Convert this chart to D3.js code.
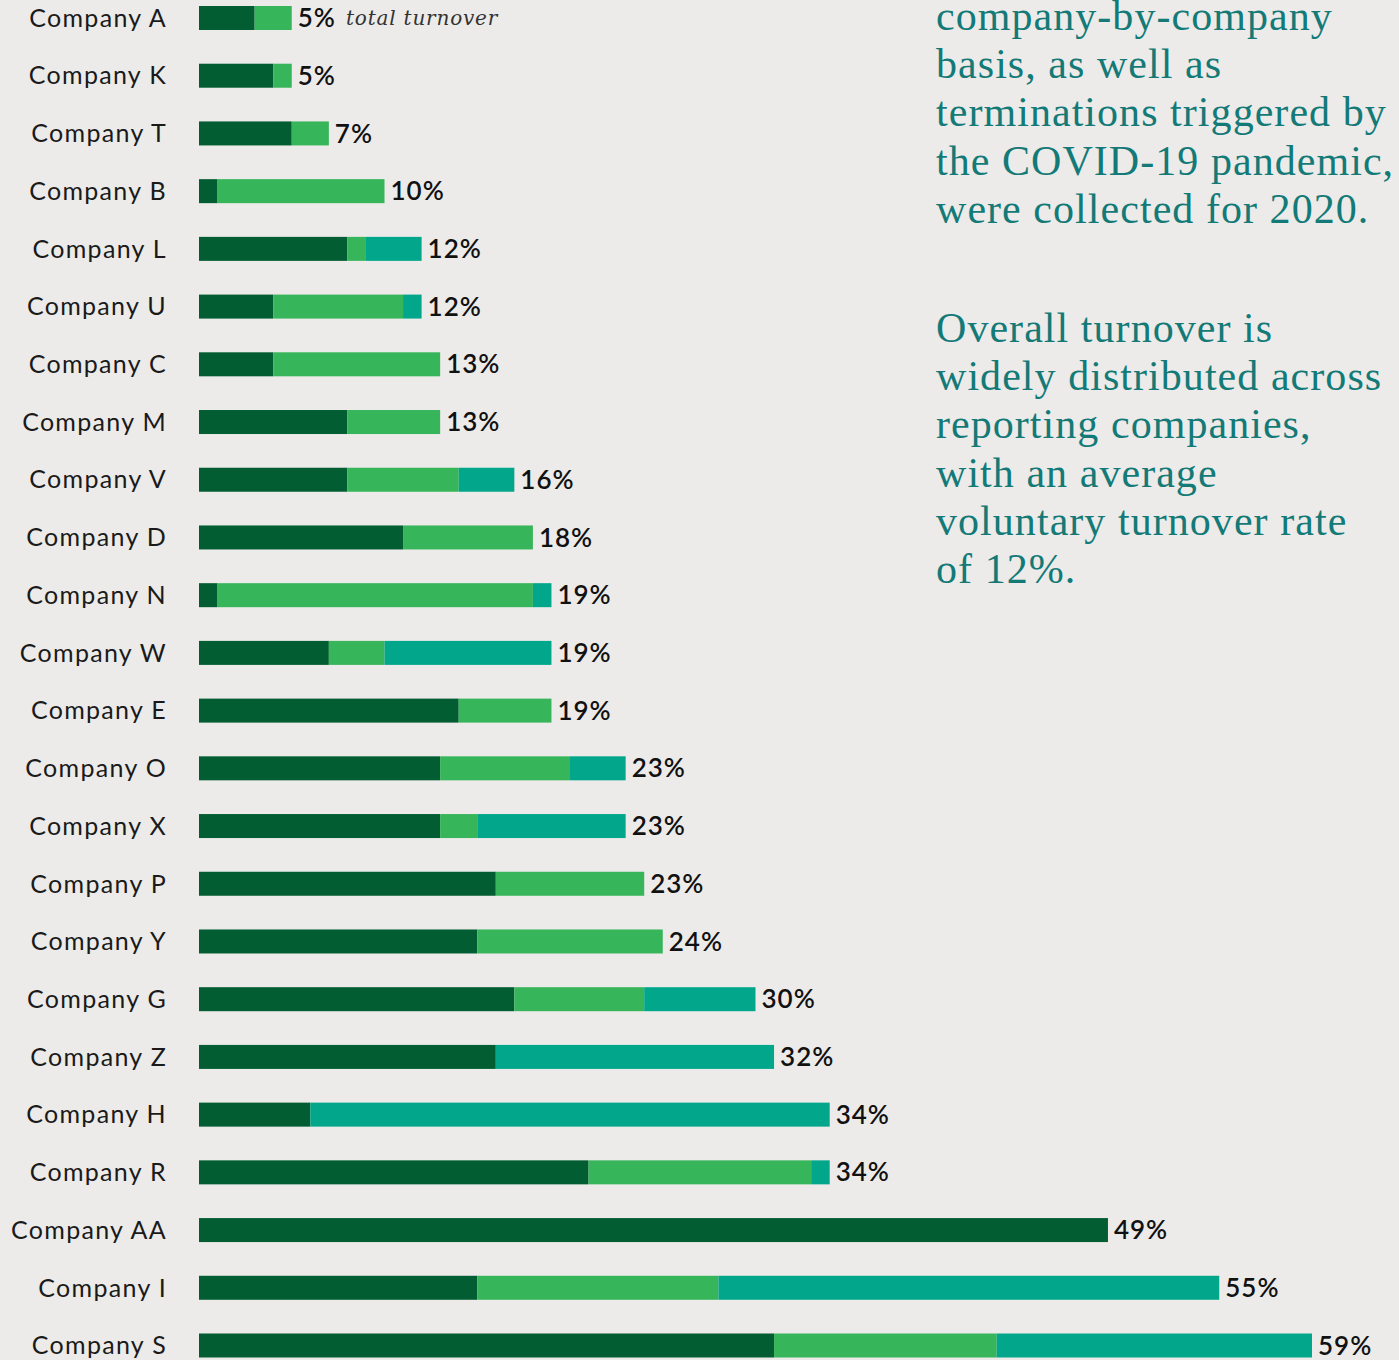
<!DOCTYPE html>
<html>
<head>
<meta charset="utf-8">
<script src="https://cdn.jsdelivr.net/npm/d3@7"></script>
<style>
  html, body { margin: 0; padding: 0; background: #ecebe9; overflow: hidden; }
  svg { display: block; }
</style>
</head>
<body>
<svg id="chart"></svg>
<script>
// values, in % of headcount
var companies = ["Company A","Company K","Company T","Company B","Company L","Company U","Company C","Company M",
                 "Company V","Company D","Company N","Company W","Company E","Company O","Company X","Company P",
                 "Company Y","Company G","Company Z","Company H","Company R","Company AA","Company I","Company S"];
var voluntary   = [3, 4, 5, 1, 8, 4, 4, 8, 8, 11, 1, 7, 14, 13, 13, 16, 15, 17, 16, 6, 21, 49, 15, 31];
var involuntary = [2, 1, 2, 9, 1, 7, 9, 5, 6, 7, 17, 3, 5, 7, 2, 8, 10, 7, 0, 0, 12, 0, 13, 12];
var covid       = [0, 0, 0, 0, 3, 1, 0, 0, 3, 0, 1, 9, 0, 3, 8, 0, 0, 6, 15, 28, 1, 0, 27, 17];
var totals      = ["5%","5%","7%","10%","12%","12%","13%","13%","16%","18%","19%","19%","19%","23%","23%","23%",
                   "24%","30%","32%","34%","34%","49%","55%","59%"];
var keys = ["voluntary", "involuntary", "covid"];
var colors = ["#025d32", "#37b55a", "#02a78b"];

var para1 = ["company-by-company", "basis, as well as", "terminations triggered by",
             "the COVID-19 pandemic,", "were collected for 2020."];
var para2 = ["Overall turnover is", "widely distributed across", "reporting companies,",
             "with an average", "voluntary turnover rate", "of 12%."];

var width = 1399, height = 1360;
var svg = d3.select("#chart").attr("width", width).attr("height", height);

var data = companies.map(function(c, i) {
    return {company: c, voluntary: voluntary[i], involuntary: involuntary[i], covid: covid[i], total: totals[i]};
});

var x = d3.scaleLinear().domain([0, 60]).range([199, 1312]);
var y = d3.scalePoint().domain(companies).range([18, 1345.5]);
var barH = 24;

var stack = d3.stack().keys(keys)(data);

svg.append("g")
    .selectAll("g")
    .data(stack)
    .join("g")
    .attr("fill", function(d, i) { return colors[i]; })
    .selectAll("rect")
    .data(function(d) { return d; })
    .join("rect")
    .attr("x", function(d) { return x(d[0]); })
    .attr("y", function(d) { return y(d.data.company) - barH / 2; })
    .attr("width", function(d) { return x(d[1]) - x(d[0]); })
    .attr("height", barH);

// company names
svg.append("g")
    .selectAll("text")
    .data(data)
    .join("text")
    .attr("x", 167)
    .attr("y", function(d) { return y(d.company); })
    .attr("dy", "0.35em")
    .attr("text-anchor", "end")
    .style("font-family", "Lato, sans-serif")
    .style("font-size", "25px")
    .style("letter-spacing", "1.3px")
    .style("fill", "#1a1a1a")
    .text(function(d) { return d.company; });

// total labels
svg.append("g")
    .selectAll("text")
    .data(data)
    .join("text")
    .attr("x", function(d) { return x(d.voluntary + d.involuntary + d.covid) + 6; })
    .attr("y", function(d) { return y(d.company); })
    .attr("dy", "0.35em")
    .style("font-family", "Lato, sans-serif")
    .style("font-weight", "600")
    .style("font-size", "26px")
    .style("letter-spacing", "1px")
    .style("fill", "#111")
    .text(function(d) { return d.total; });

svg.append("text")
    .attr("x", 346)
    .attr("y", y(companies[0]))
    .attr("dy", "0.35em")
    .style("font-family", "'DejaVu Serif', serif")
    .style("font-style", "italic")
    .style("font-size", "20px")
    .style("letter-spacing", "0.8px")
    .style("fill", "#333")
    .text("total turnover");

// side notes
function note(lines, y0) {
    svg.append("g")
        .selectAll("text")
        .data(lines)
        .join("text")
        .attr("x", 936)
        .attr("y", function(d, i) { return y0 + i * 48.2; })
        .style("font-family", "'Liberation Serif', serif")
        .style("font-size", "42px")
        .style("letter-spacing", "1.05px")
        .style("fill", "#137a77")
        .text(function(d) { return d; });
}
note(para1, 30);
note(para2, 342);
</script>
</body>
</html>
